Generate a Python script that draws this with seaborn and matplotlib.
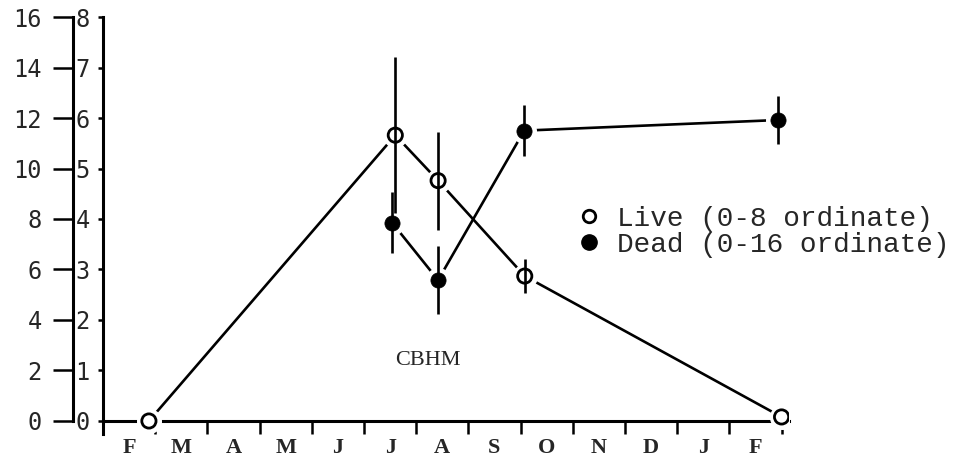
import numpy as np
import pandas as pd
import matplotlib.pyplot as plt
import seaborn as sns
from matplotlib.lines import Line2D

sns.set_style('white')
plt.rcParams['font.family'] = ['DejaVu Sans Mono']

# month labels (Feb -> Feb), ticks sit on month boundaries
months = ['F', 'M', 'A', 'M', 'J', 'J', 'A', 'S', 'O', 'N', 'D', 'J', 'F']

# live biomass, 0-8 ordinate
live_x = [0.88, 5.6, 6.42, 8.08, 13.0]
live_y = [0.0, 5.66, 4.76, 2.87, 0.08]
live_err = [0.0, 1.54, 0.97, 0.33, 0.0]

# dead biomass, 0-16 ordinate
dead_x = [5.54, 6.42, 8.07, 12.93]
dead_y = [7.85, 5.58, 11.5, 11.92]
dead_err = [1.2, 1.35, 1.0, 0.95]

df_live = pd.DataFrame({'mes': live_x, 'valor': live_y})
df_dead = pd.DataFrame({'mes': dead_x, 'valor': dead_y})

lw = 1.9
fig = plt.figure(figsize=(9.58, 4.66), dpi=100)
ax = fig.add_axes([0.1075, 0.0695, 0.7165, 0.894])
ax2 = ax.twinx()
# dead axes underneath, live on top
ax2.set_zorder(ax.get_zorder() - 1)
ax.patch.set_visible(False)

# ---- live (0-8)
sns.lineplot(data=df_live, x='mes', y='valor', ax=ax, color='black', lw=lw,
             sort=False, estimator=None, zorder=2)
ax.plot(df_live['mes'], df_live['valor'], 'o', ms=17, color='white', zorder=3)
ax.errorbar(live_x, live_y, yerr=live_err, fmt='none', ecolor='black',
            elinewidth=lw, capsize=0, zorder=4)
sns.scatterplot(data=df_live, x='mes', y='valor', ax=ax, marker='o', s=105,
                facecolor='none', edgecolor='black', linewidth=2.0, zorder=5)

# ---- dead (0-16)
sns.lineplot(data=df_dead, x='mes', y='valor', ax=ax2, color='black', lw=lw,
             sort=False, estimator=None, zorder=2)
ax2.plot(df_dead['mes'], df_dead['valor'], 'o', ms=17, color='white', zorder=3)
ax2.errorbar(dead_x, dead_y, yerr=dead_err, fmt='none', ecolor='black',
             elinewidth=lw, capsize=0, zorder=4)
sns.scatterplot(data=df_dead, x='mes', y='valor', ax=ax2, marker='o', s=120,
                color='black', edgecolor='black', linewidth=0.5, zorder=5)

# ---- axes
ax.set_xlim(0, 13.15)
ax.set_ylim(-0.25, 8)
ax2.set_ylim(-0.5, 16)

ax.spines['top'].set_visible(False)
ax.spines['right'].set_visible(False)
ax.spines['bottom'].set_position(('data', 0))
for s in ['left', 'bottom']:
    ax.spines[s].set_linewidth(2.2)
    ax.spines[s].set_color('black')

ax.set_xticks(np.arange(14))
ax.set_xticklabels([])
ax.set_xticks(np.arange(13) + 0.5, minor=True)
ax.set_xticklabels(months, minor=True, family='Liberation Serif',
                   fontweight='bold', fontsize=16)
ax.tick_params(axis='x', which='major', direction='out', length=9, width=1.8,
               color='black', bottom=True)
ax.tick_params(axis='x', which='minor', length=0, pad=12, bottom=True)

ax.set_yticks(np.arange(0, 9))
ax.tick_params(axis='y', direction='out', length=3.5, width=1.8, pad=6,
               labelsize=17, color='black', left=True)

for s in ['top', 'right', 'bottom']:
    ax2.spines[s].set_visible(False)
ax2.spines['left'].set_visible(True)
ax2.spines['left'].set_position(('axes', -30 / 686))
ax2.spines['left'].set_bounds(0, 16)
ax2.spines['left'].set_linewidth(2.2)
ax2.spines['left'].set_color('black')
ax2.yaxis.tick_left()
ax2.set_yticks(np.arange(0, 17, 2))
ax2.tick_params(axis='y', direction='out', length=14.5, width=1.8, pad=8,
                labelsize=17, color='black', left=True, right=False)
ax.set_xlabel('')
ax.set_ylabel('')
ax2.set_ylabel('')

ax.text(6.23, 1.19, 'CBHM', family='Liberation Serif', fontsize=16,
        ha='center', va='center')

handles = [
    Line2D([], [], marker='o', ls='none', mfc='white', mec='black', ms=9, mew=2),
    Line2D([], [], marker='o', ls='none', mfc='black', mec='black', ms=11),
]
fig.legend(handles, ['Live (0-8 ordinate)', 'Dead (0-16 ordinate)'],
           loc='center left', bbox_to_anchor=(579 / 958, 1 - 231.5 / 466),
           frameon=False, prop={'family': 'Liberation Mono', 'size': 20},
           handlelength=0.72, handletextpad=0.65, labelspacing=0.0,
           borderpad=0, borderaxespad=0)

fig.savefig('out.png', dpi=100)
